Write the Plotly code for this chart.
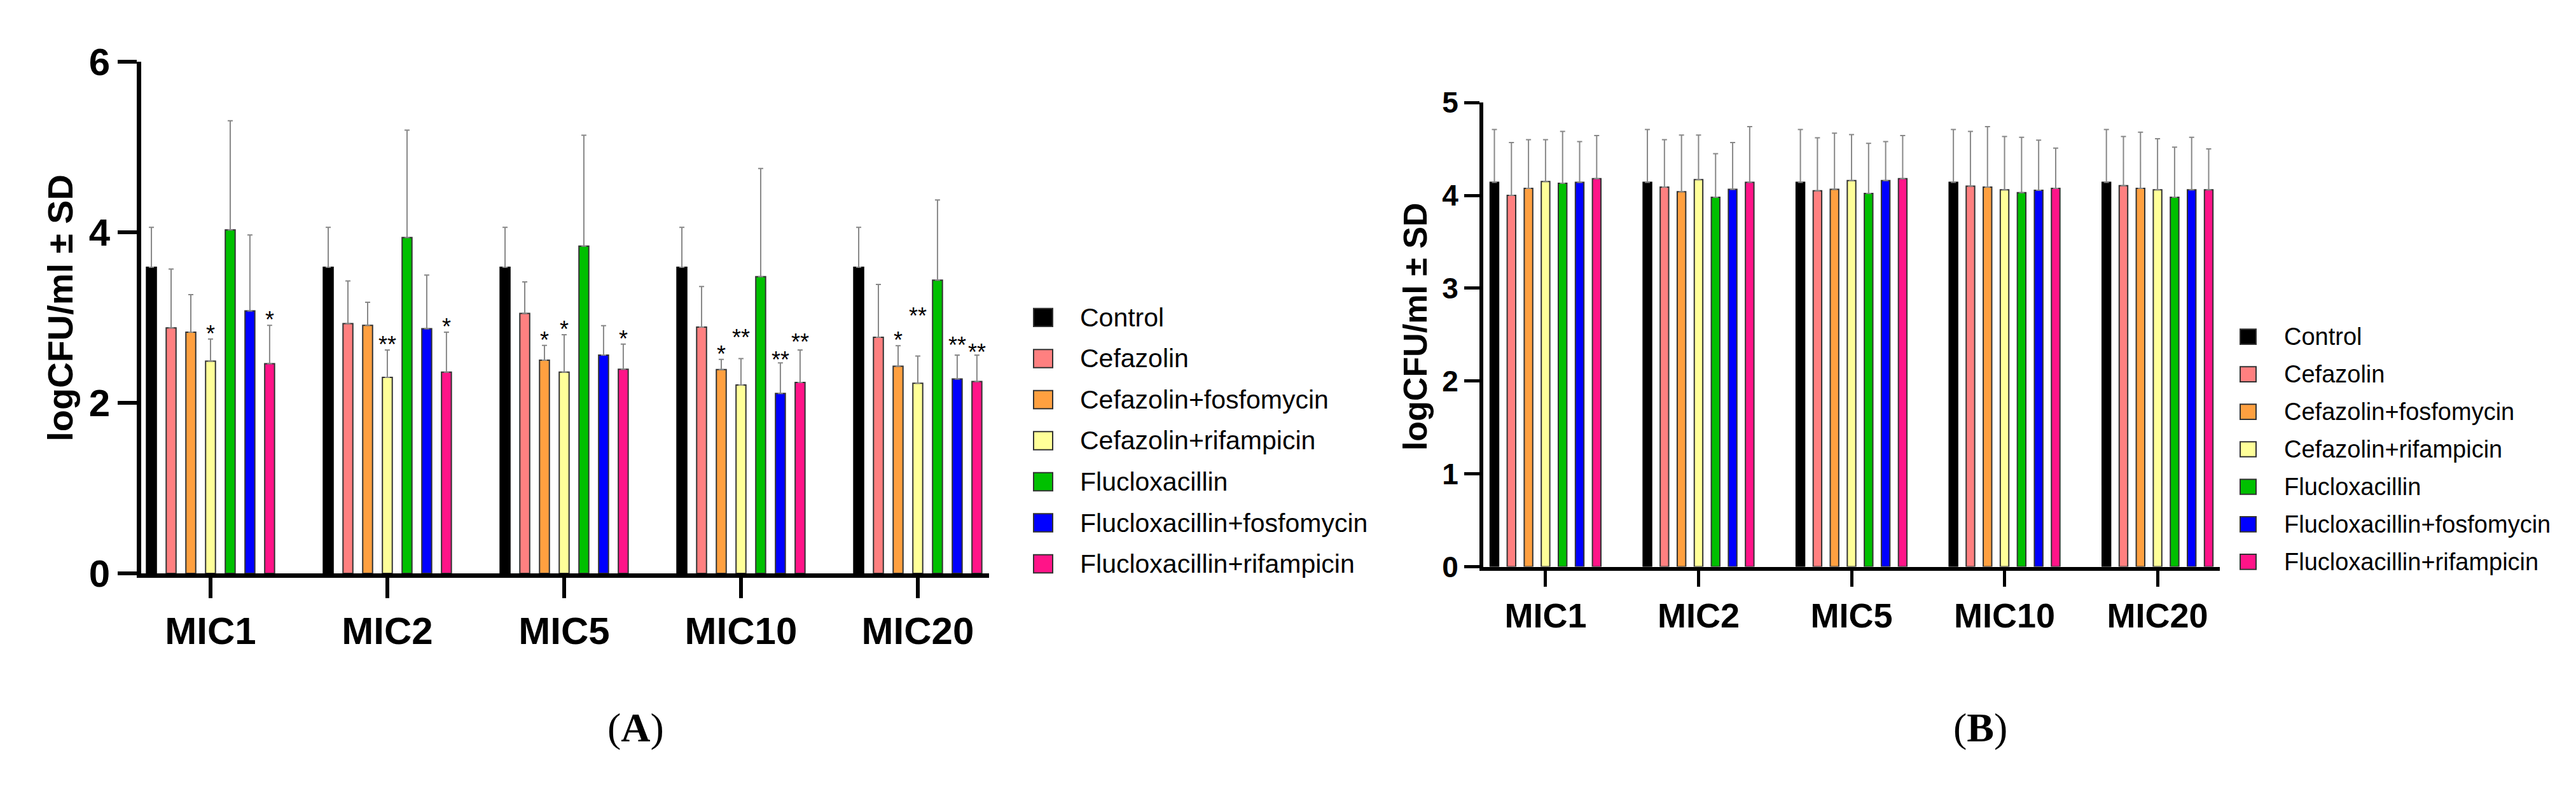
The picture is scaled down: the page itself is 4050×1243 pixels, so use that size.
import plotly.graph_objects as go

W, H = 4050, 1243

groups = ["MIC1", "MIC2", "MIC5", "MIC10", "MIC20"]
series = ["Control", "Cefazolin", "Cefazolin+fosfomycin", "Cefazolin+rifampicin",
          "Flucloxacillin", "Flucloxacillin+fosfomycin", "Flucloxacillin+rifampicin"]
colors = ["#000000", "#FF8080", "#FFA040", "#FFFF99", "#00C000", "#0000FF", "#FF1488"]

# panel A: mean logCFU/ml and SD (upper bar only)
a_control = [3.59, 3.59, 3.59, 3.59, 3.59]
a_control_sd = [0.47, 0.47, 0.47, 0.47, 0.47]
a_cef = [2.88, 2.93, 3.05, 2.89, 2.77]
a_cef_sd = [0.69, 0.50, 0.37, 0.475, 0.62]
a_cef_fos = [2.83, 2.91, 2.50, 2.39, 2.43]
a_cef_fos_sd = [0.44, 0.27, 0.175, 0.12, 0.24]
a_cef_rif = [2.49, 2.30, 2.36, 2.21, 2.23]
a_cef_rif_sd = [0.26, 0.32, 0.44, 0.31, 0.32]
a_flu = [4.03, 3.94, 3.84, 3.48, 3.44]
a_flu_sd = [1.28, 1.26, 1.30, 1.27, 0.94]
a_flu_fos = [3.08, 2.87, 2.56, 2.11, 2.28]
a_flu_fos_sd = [0.89, 0.63, 0.345, 0.36, 0.28]
a_flu_rif = [2.46, 2.36, 2.395, 2.24, 2.25]
a_flu_rif_sd = [0.45, 0.47, 0.295, 0.38, 0.31]

# significance marks in panel A (series index -> one mark per group)
a_stars = {
    2: ["", "", "*", "*", "*"],
    3: ["*", "**", "*", "**", "**"],
    5: ["", "", "", "**", "**"],
    6: ["*", "*", "*", "**", "**"],
}

# panel B
b_control = [4.14, 4.14, 4.14, 4.14, 4.14]
b_control_sd = [0.57, 0.57, 0.57, 0.57, 0.57]
b_cef = [4.00, 4.09, 4.05, 4.10, 4.105]
b_cef_sd = [0.57, 0.51, 0.57, 0.59, 0.53]
b_cef_fos = [4.075, 4.04, 4.065, 4.09, 4.075]
b_cef_fos_sd = [0.525, 0.61, 0.605, 0.65, 0.605]
b_cef_rif = [4.15, 4.17, 4.16, 4.06, 4.06]
b_cef_rif_sd = [0.45, 0.48, 0.495, 0.575, 0.55]
b_flu = [4.13, 3.98, 4.02, 4.03, 3.98]
b_flu_sd = [0.56, 0.47, 0.54, 0.595, 0.54]
b_flu_fos = [4.14, 4.065, 4.16, 4.055, 4.06]
b_flu_fos_sd = [0.44, 0.505, 0.42, 0.54, 0.565]
b_flu_rif = [4.18, 4.14, 4.18, 4.075, 4.06]
b_flu_rif_sd = [0.465, 0.60, 0.465, 0.435, 0.44]

a_means = [a_control, a_cef, a_cef_fos, a_cef_rif, a_flu, a_flu_fos, a_flu_rif]
a_sds = [a_control_sd, a_cef_sd, a_cef_fos_sd, a_cef_rif_sd, a_flu_sd, a_flu_fos_sd, a_flu_rif_sd]
b_means = [b_control, b_cef, b_cef_fos, b_cef_rif, b_flu, b_flu_fos, b_flu_rif]
b_sds = [b_control_sd, b_cef_sd, b_cef_fos_sd, b_cef_rif_sd, b_flu_sd, b_flu_fos_sd, b_flu_rif_sd]

BARGAP = 0.22
slot = (1 - BARGAP) / len(series)
SANS = "Liberation Sans, Arial, sans-serif"
SERIF = "Liberation Serif, Times New Roman, serif"

# some star labels sit higher so neighbours don't collide (pixel shift)
star_shift = {(3, 3): 10, (3, 4): 40, (5, 3): -18, (5, 4): -7, (6, 3): -10, (6, 4): -18}


def px(x):
    return x / W


def py(y):
    return (H - y) / H


fig = go.Figure()

for panel, means, sds in (("", a_means, a_sds), ("2", b_means, b_sds)):
    for i, name in enumerate(series):
        fig.add_trace(go.Bar(
            x=groups, y=means[i], name=name,
            xaxis="x" + panel, yaxis="y" + panel,
            marker=dict(color=colors[i],
                        line=dict(color="#000000" if i == 0 else "#333333",
                                  width=2)),
            error_y=dict(type="data", array=sds[i], symmetric=False,
                         arrayminus=[0] * len(groups),
                         color="#888888", thickness=2, width=4),
            showlegend=False,
        ))

annotations = []
for si, marks in a_stars.items():
    for gi, mark in enumerate(marks):
        if not mark:
            continue
        annotations.append(dict(
            x=gi + (si - 3) * slot, y=a_means[si][gi] + a_sds[si][gi],
            xref="x", yref="y", text=mark, showarrow=False,
            xanchor="center", yanchor="bottom", yshift=star_shift.get((si, gi), -14),
            font=dict(family=SANS, size=36, color="#000000")))

# y titles and panel letters
for (x, y, size) in ((87, 468, 56), (2217, 499, 52)):
    annotations.append(dict(x=px(x), y=py(y), xref="paper", yref="paper",
                            text="<b>logCFU/ml ± SD</b>", textangle=-90, showarrow=False,
                            xanchor="center", yanchor="middle",
                            font=dict(family=SANS, size=size, color="#000000")))
for (x, label) in ((991, "A"), (3105, "B")):
    annotations.append(dict(x=px(x), y=py(1165), xref="paper", yref="paper",
                            text="(<b>%s</b>)" % label, showarrow=False,
                            xanchor="center", yanchor="middle",
                            font=dict(family=SERIF, size=64, color="#000000")))

# hand-built legends (large swatches as in the original)
shapes = []
for (x0, y0, step, box, tx, fsize) in ((1617, 484, 68.2, 30, 1688, 41),
                                       (3514, 516, 62.3, 25, 3581, 38)):
    for i, name in enumerate(series):
        yc = y0 + i * step
        shapes.append(dict(type="rect", xref="paper", yref="paper",
                           x0=px(x0), x1=px(x0 + box),
                           y0=py(yc + box / 2), y1=py(yc - box / 2),
                           fillcolor=colors[i], line=dict(color="#333333", width=2)))
        annotations.append(dict(x=px(tx), y=py(yc), xref="paper", yref="paper",
                                text=name, showarrow=False, xanchor="left", yanchor="middle",
                                font=dict(family=SANS, size=fsize, color="#000000")))

axis_common = dict(showline=True, linecolor="#000000", ticks="outside",
                   tickcolor="#000000", showgrid=False, zeroline=False)

fig.update_layout(
    width=W, height=H,
    margin=dict(l=0, r=0, t=0, b=0),
    paper_bgcolor="white", plot_bgcolor="white",
    barmode="group", bargap=BARGAP, bargroupgap=0.5,
    xaxis=dict(domain=[px(214), px(1547)], range=[-0.392, 4.403], anchor="y",
               linewidth=7, ticklen=32, tickwidth=6,
               tickfont=dict(family=SANS, size=60, color="#000000", weight="bold"),
               **axis_common),
    yaxis=dict(domain=[py(909), py(59.5)], range=[0, 6], anchor="x",
               tickvals=[0, 2, 4, 6], linewidth=7, ticklen=30, tickwidth=6,
               tickfont=dict(family=SANS, size=60, color="#000000", weight="bold"),
               **axis_common),
    xaxis2=dict(domain=[px(2324), px(3482)], range=[-0.407, 4.407], anchor="y2",
                linewidth=6, ticklen=25, tickwidth=5,
                tickfont=dict(family=SANS, size=54, color="#000000", weight="bold"),
                **axis_common),
    yaxis2=dict(domain=[py(898), py(127)], range=[0, 5], anchor="x2",
                tickvals=[0, 1, 2, 3, 4, 5], linewidth=6, ticklen=24, tickwidth=5,
                tickfont=dict(family=SANS, size=46, color="#000000", weight="bold"),
                **axis_common),
    annotations=annotations,
    shapes=shapes,
    showlegend=False,
)

fig.write_html("out.html")
